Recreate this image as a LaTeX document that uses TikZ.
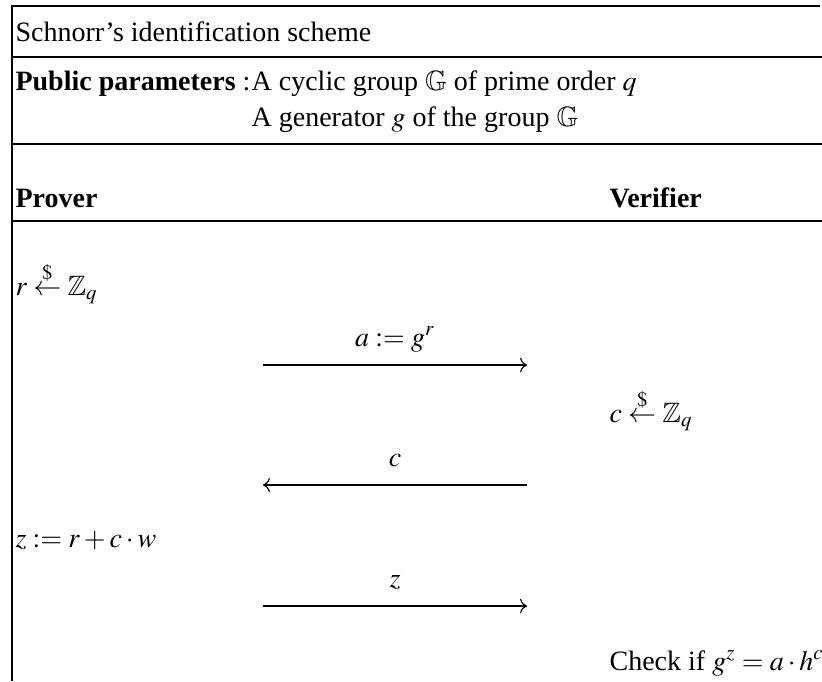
\documentclass[tikz,border=0pt]{standalone}
\usepackage{amsmath,amssymb}
\usepackage{mathptmx}
\usepackage{fontspec}
\setmainfont{Liberation Serif}
\usepackage{tikz}
\usetikzlibrary{calc,arrows.meta,positioning}
\tikzset{
  txt/.style={anchor=base west,inner sep=0pt},
  lab/.style={anchor=base,inner sep=0pt},
  rule/.style={line width=0.5pt},
  msg/.style={->,line width=0.4pt}
}
\newcommand{\samp}{\stackrel{\$}{\leftarrow}}
% message arrow: name, y, direction (l->r or r->l), label
\newcommand{\msgline}[4]{%
  \coordinate (#1l) at (263,#2); \coordinate (#1r) at (527,#2);
  \node[lab] (#1lab) at ($(#1l)!0.5!(#1r)+(0,-19)$) {#4};
  \draw[msg] (#1#3);}

\begin{document}
\begin{tikzpicture}[x=0.357pt,y=-0.357pt]
\useasboundingbox (0,0) rectangle (822,681);
\draw[rule] (820,6)--(12,6)--(12,681);
\foreach \y in {57,144,221} \draw[rule] (12,\y)--(822,\y);
\node[txt] (title) at (15,41) {Schnorr's identification scheme};
\node[txt] (pub) at (15,90) {\textbf{Public parameters} :};
\node[txt] (grp) at (pub.base east) {A cyclic group $\mathbb{G}$ of prime order $q$};
\node[txt] (gen) at ($(grp.base west)+(0,36)$) {A generator $g$ of the group $\mathbb{G}$};
\node[txt] (prover) at (15,207) {\textbf{Prover}};
\node[txt] (verifier) at (609,207) {\textbf{Verifier}};
\node[txt] (rsamp) at (15,295) {$r \samp \mathbb{Z}_q$};
\node[txt] (csamp) at (609,422) {$c \samp \mathbb{Z}_q$};
\node[txt] (zcomp) at (15,547) {$z := r + c \cdot w$};
\node[txt] (check) at (609,670) {Check if $g^z = a \cdot h^c$};
\msgline{ma}{365}{l)--(mar}{$a := g^r$}
\msgline{mc}{485}{r)--(mcl}{$c$}
\msgline{mz}{606}{l)--(mzr}{$z$}
\end{tikzpicture}
\end{document}
